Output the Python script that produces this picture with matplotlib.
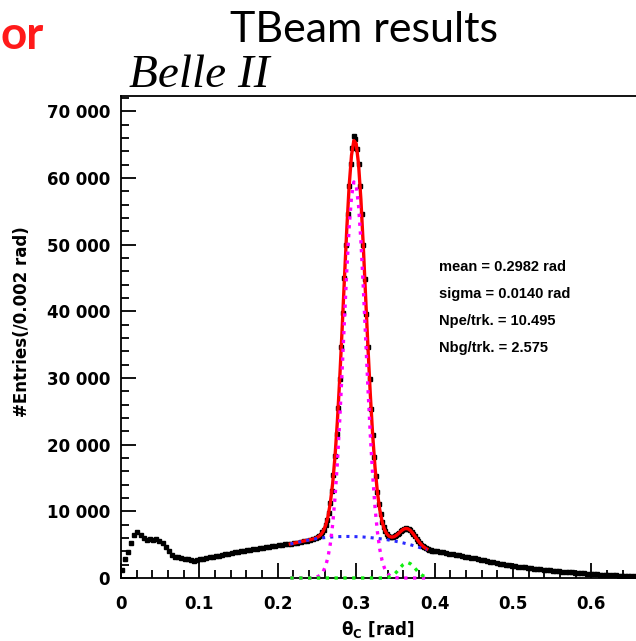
import numpy as np
import matplotlib
matplotlib.use("Agg")
import matplotlib.pyplot as plt
from matplotlib.ticker import MultipleLocator, FuncFormatter

lo_start, lo_step = 0.001, 0.004
entries_lo = [1200, 2800, 3900, 5200, 6500, 6900, 6500, 6050, 5750, 5900,
              5700, 5800, 5500, 5200, 4600, 4000, 3500, 3200, 3100, 3000,
              2900, 2800, 2700, 2600, 2700, 2800, 2900, 3000, 3100, 3150,
              3250, 3350, 3450, 3550, 3650, 3750, 3850, 3950, 4000, 4100,
              4200, 4250, 4300, 4400, 4450, 4550, 4650, 4700, 4800, 4850,
              4950, 5000, 5050, 5100, 5150, 5250, 5300, 5400, 5500, 5600,
              5700, 5850, 6050]

pk_start, pk_step = 0.251, 0.002
entries_pk = [6150, 6300, 6520, 6840, 7270, 7880, 8710, 9810, 11260, 13120,
              15440, 18270, 21640, 25540, 29920, 34715, 39770, 44930, 49980, 54670,
              58790, 62105, 64430, 66300, 65900, 64410, 62070, 58740, 54600, 49900,
              44830, 39660, 34590, 29780, 25390, 21470, 18080, 15240, 12910, 11040,
              9580, 8470, 7630, 7030, 6630, 6350, 6200, 6130, 6150, 6240,
              6376, 6570, 6785, 7008, 7210, 7340, 7430, 7400, 7300, 7140,
              6870, 6580, 6250, 5910, 5580, 5270, 5000, 4770, 4580, 4430,
              4300, 4220, 4150, 4100, 4050]

hi_start, hi_step = 0.403, 0.004
entries_hi = [4000, 3920, 3830, 3740, 3640, 3560, 3470, 3390, 3300, 3220,
              3130, 3030, 2940, 2840, 2740, 2640, 2550, 2450, 2350, 2260,
              2170, 2080, 2000, 1920, 1840, 1770, 1700, 1640, 1580, 1520,
              1460, 1400, 1350, 1290, 1240, 1190, 1140, 1090, 1040, 1000,
              950, 910, 870, 830, 790, 750, 710, 680, 640, 610,
              580, 550, 520, 490, 460, 440, 410, 390, 360, 340,
              320, 300, 280, 260]

# fit curves, sampled every 0.003 rad from 0.216 to 0.390
fit_start, fit_step = 0.216, 0.003
fit_sig = [0, 0, 0, 0, 0, 0, 0,
           4, 11, 26, 60, 130, 270, 530, 1000, 1810, 3120,
           5130, 8060, 12090, 17330, 23710, 31000, 38700, 46150, 52560, 57180,
           59410, 58950, 55880, 50590, 43750, 36120, 28500, 21470, 15450, 10620,
           6970, 4370, 2620, 1500, 820, 430, 210, 100, 46, 20, 8, 3,
           0, 0, 0, 0, 0, 0, 0, 0, 0, 0]
fit_bkg = [5100, 5180, 5260, 5340, 5420, 5500, 5570, 5640, 5710, 5770,
           5830, 5890, 5940, 5990, 6030, 6070, 6100, 6130, 6160, 6180,
           6200, 6210, 6220, 6230, 6230, 6230, 6220, 6210,
           6200, 6190, 6170, 6150, 6120, 6090, 6060, 6020, 5980, 5940,
           5900, 5850, 5800, 5750, 5690, 5630, 5560, 5490, 5420, 5340,
           5260, 5170, 5080, 4990, 4890, 4790, 4680, 4570, 4460, 4350, 4240]
fit_bump = [0] * 40 + [0, 60, 140, 290, 520, 840, 1240, 1660, 2030, 2260,
                       2300, 2150, 1850, 1460, 1060, 700, 420, 230, 120]
fit_total = [5100, 5180, 5260, 5340, 5420, 5500, 5570, 5644, 5721, 5796,
             5890, 6020, 6210, 6520, 7030, 7880, 9220, 11260, 14220, 18270,
             23530, 29920, 37220, 44930, 52380, 58790, 63400, 65620,
             65150, 62070, 56760, 49900, 42240, 34590, 27530, 21470, 16600, 12910,
             10270, 8470, 7300, 6630, 6260, 6130, 6180, 6376, 6680, 7008,
             7293, 7430, 7380, 7140, 6740, 6250, 5740, 5270, 4880, 4580, 4360]

stats = ["mean = 0.2982 rad", "sigma = 0.0140 rad",
         "Npe/trk. = 10.495", "Nbg/trk. = 2.575"]


def centers(start, step, vals):
    return start + step * np.arange(len(vals))


W, H = 636, 641
fig = plt.figure(figsize=(W / 100, H / 100), dpi=100)
ax = fig.add_axes([121 / W, 1 - 578 / H, 1 - 121 / W, (578 - 96) / H])

for start, step, vals in [(lo_start, lo_step, entries_lo),
                          (pk_start, pk_step, entries_pk),
                          (hi_start, hi_step, entries_hi)]:
    x = centers(start, step, vals)
    y = np.array(vals, dtype=float)
    ax.errorbar(x, y, yerr=np.sqrt(y), xerr=step / 2, fmt='s', color='black',
                ms=2.8, elinewidth=1.4, capsize=0, zorder=2)

fx = centers(fit_start, fit_step, fit_total)
ax.plot(fx, fit_total, color='#ff0000', lw=2.4, zorder=3)
ax.plot(fx, fit_bkg, color='#2a2aff', lw=2.2, ls=':', zorder=4)
ax.plot(fx, fit_sig, color='#ff00ff', lw=2.4, ls=':', zorder=4, clip_on=False)
ax.plot(fx, fit_bump, color='#11ee11', lw=2.4, ls=':', zorder=5, clip_on=False)

ax.set_xlim(0, (W - 121) / 784)
ax.set_ylim(0, 72300)
ax.xaxis.set_major_locator(MultipleLocator(0.1))
ax.xaxis.set_minor_locator(MultipleLocator(0.02))
ax.yaxis.set_major_locator(MultipleLocator(10000))
ax.yaxis.set_minor_locator(MultipleLocator(2000))
ax.xaxis.set_major_formatter(FuncFormatter(lambda v, p: "0" if abs(v) < 1e-9 else f"{v:.1f}"))
ax.yaxis.set_major_formatter(FuncFormatter(lambda v, p: f"{int(round(v)):,}".replace(",", " ")))
ax.tick_params(which='both', direction='in', width=1.3, top=False, right=False)
ax.tick_params(which='major', length=11, labelsize=12, pad=8)
ax.tick_params(which='minor', length=6)
ax.tick_params(axis='x', which='major', pad=12)
for lab in ax.get_xticklabels() + ax.get_yticklabels():
    lab.set_fontweight('bold')
for s in ['left', 'bottom', 'top']:
    ax.spines[s].set_linewidth(1.3)
ax.spines['right'].set_visible(False)

for i, s in enumerate(stats):
    fig.text(439 / W, 1 - (267 + 27 * i) / H, s, fontsize=10.5, fontweight='bold',
             family='Liberation Sans', va='center', ha='left')

fig.text(22 / W, 1 - 322 / H, "#Entries(/0.002 rad)", rotation=90, fontsize=12,
         fontweight='bold', family='DejaVu Sans', ha='center', va='center')
fig.text(378 / W, 1 - 630 / H, r"θ$_\mathbf{C}$ [rad]", fontsize=12,
         fontweight='bold', ha='center', va='center')

fig.text(364 / W, 1 - 30 / H, "TBeam results", fontsize=31, family='Lato',
         ha='center', va='center')
fig.text(1 / W, 1 - 49 / H, "or", fontsize=33, family='Lato', fontweight='bold',
         color='#ff1a1a', ha='left', va='baseline')
fig.text(129 / W, 1 - 87 / H, "Belle II", fontsize=34, family='Liberation Serif',
         style='italic', ha='left', va='baseline')

fig.savefig("out.png", dpi=100)
